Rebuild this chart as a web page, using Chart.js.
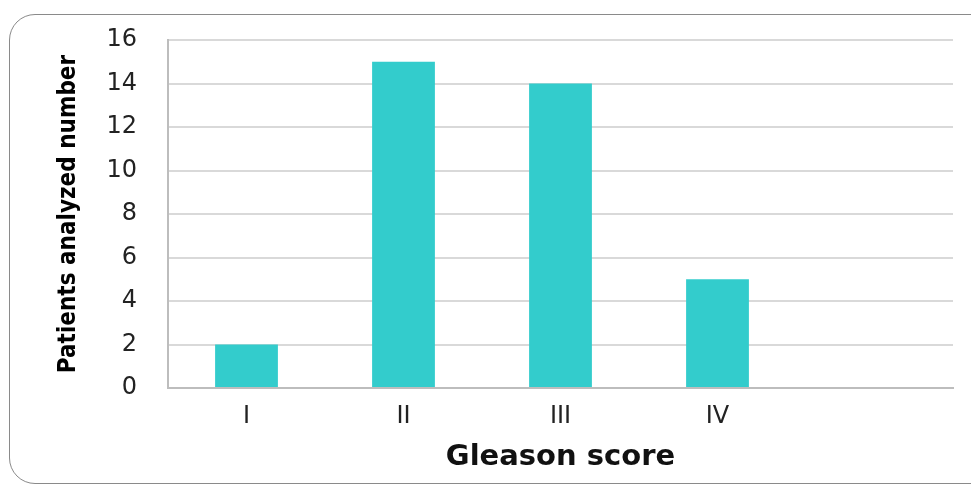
<!DOCTYPE html>
<html>
<head>
<meta charset="utf-8">
<script src="https://cdn.jsdelivr.net/npm/chart.js@4"></script>
<style>
  html, body { margin: 0; padding: 0; background: #fff; }
  #wrap { position: relative; width: 971px; height: 488px; overflow: hidden; }
  #frame {
    position: absolute; left: 9px; top: 14px; width: 1000px; height: 470px;
    border: 1.5px solid #8a8a8a; border-radius: 26px; box-sizing: border-box;
  }
  canvas { position: absolute; left: 0; top: 0; }
</style>
</head>
<body>
<div id="wrap">
  <div id="frame"></div>
  <canvas id="chart" width="971" height="488"></canvas>
</div>
<script>
document.addEventListener('DOMContentLoaded', () => {
    // data
    const categories = ['I', 'II', 'III', 'IV', ''];
    const patients = [2, 15, 14, 5, null];
    const yTicks = [0, 2, 4, 6, 8, 10, 12, 14, 16];

    const ctx = document.getElementById('chart').getContext('2d');
    new Chart(ctx, {
        type: 'bar',
        data: {
            labels: categories,
            datasets: [{
                label: 'Patients',
                data: patients,
                backgroundColor: '#33CCCC',
                borderWidth: 0,
                barPercentage: 0.4,
                categoryPercentage: 1.0
            }]
        },
        options: {
            responsive: false,
            animation: false,
            layout: { padding: { left: 54, top: 40, right: 18, bottom: 13 } },
            plugins: {
                legend: { display: false },
                tooltip: { enabled: false }
            },
            scales: {
                x: {
                    grid: { display: false, drawTicks: false },
                    border: { color: '#bdbdbd', width: 2 },
                    ticks: {
                        color: '#222',
                        font: { family: 'DejaVu Sans, Arial', size: 24 },
                        padding: 14
                    },
                    title: {
                        display: true,
                        text: 'Gleason score',
                        color: '#111',
                        font: { family: 'DejaVu Sans, Arial', size: 29, weight: 'bold' },
                        padding: { top: 2, bottom: 0 }
                    },
                    afterFit: (scale) => { scale.height = 87; }
                },
                y: {
                    min: 0,
                    max: 16,
                    afterBuildTicks: (scale) => { scale.ticks = yTicks.map(v => ({ value: v })); },
                    grid: { color: '#d9d9d9', lineWidth: 2, drawTicks: false },
                    border: { color: '#bdbdbd', width: 2 },
                    ticks: {
                        color: '#222',
                        font: { family: 'DejaVu Sans, Arial', size: 24 },
                        padding: 31
                    },
                    title: {
                        display: true,
                        text: 'Patients analyzed number',
                        color: '#000',
                        font: { family: 'Liberation Sans Narrow, DejaVu Sans Condensed, Arial', size: 24, weight: 'bold' },
                        padding: { top: 0, bottom: 0 }
                    },
                    afterFit: (scale) => {
                        scale.width = 114;
                        scale.paddingTop = 0;
                        scale.paddingBottom = 0;
                    }
                }
            }
        }
    });
});
</script>
</body>
</html>
